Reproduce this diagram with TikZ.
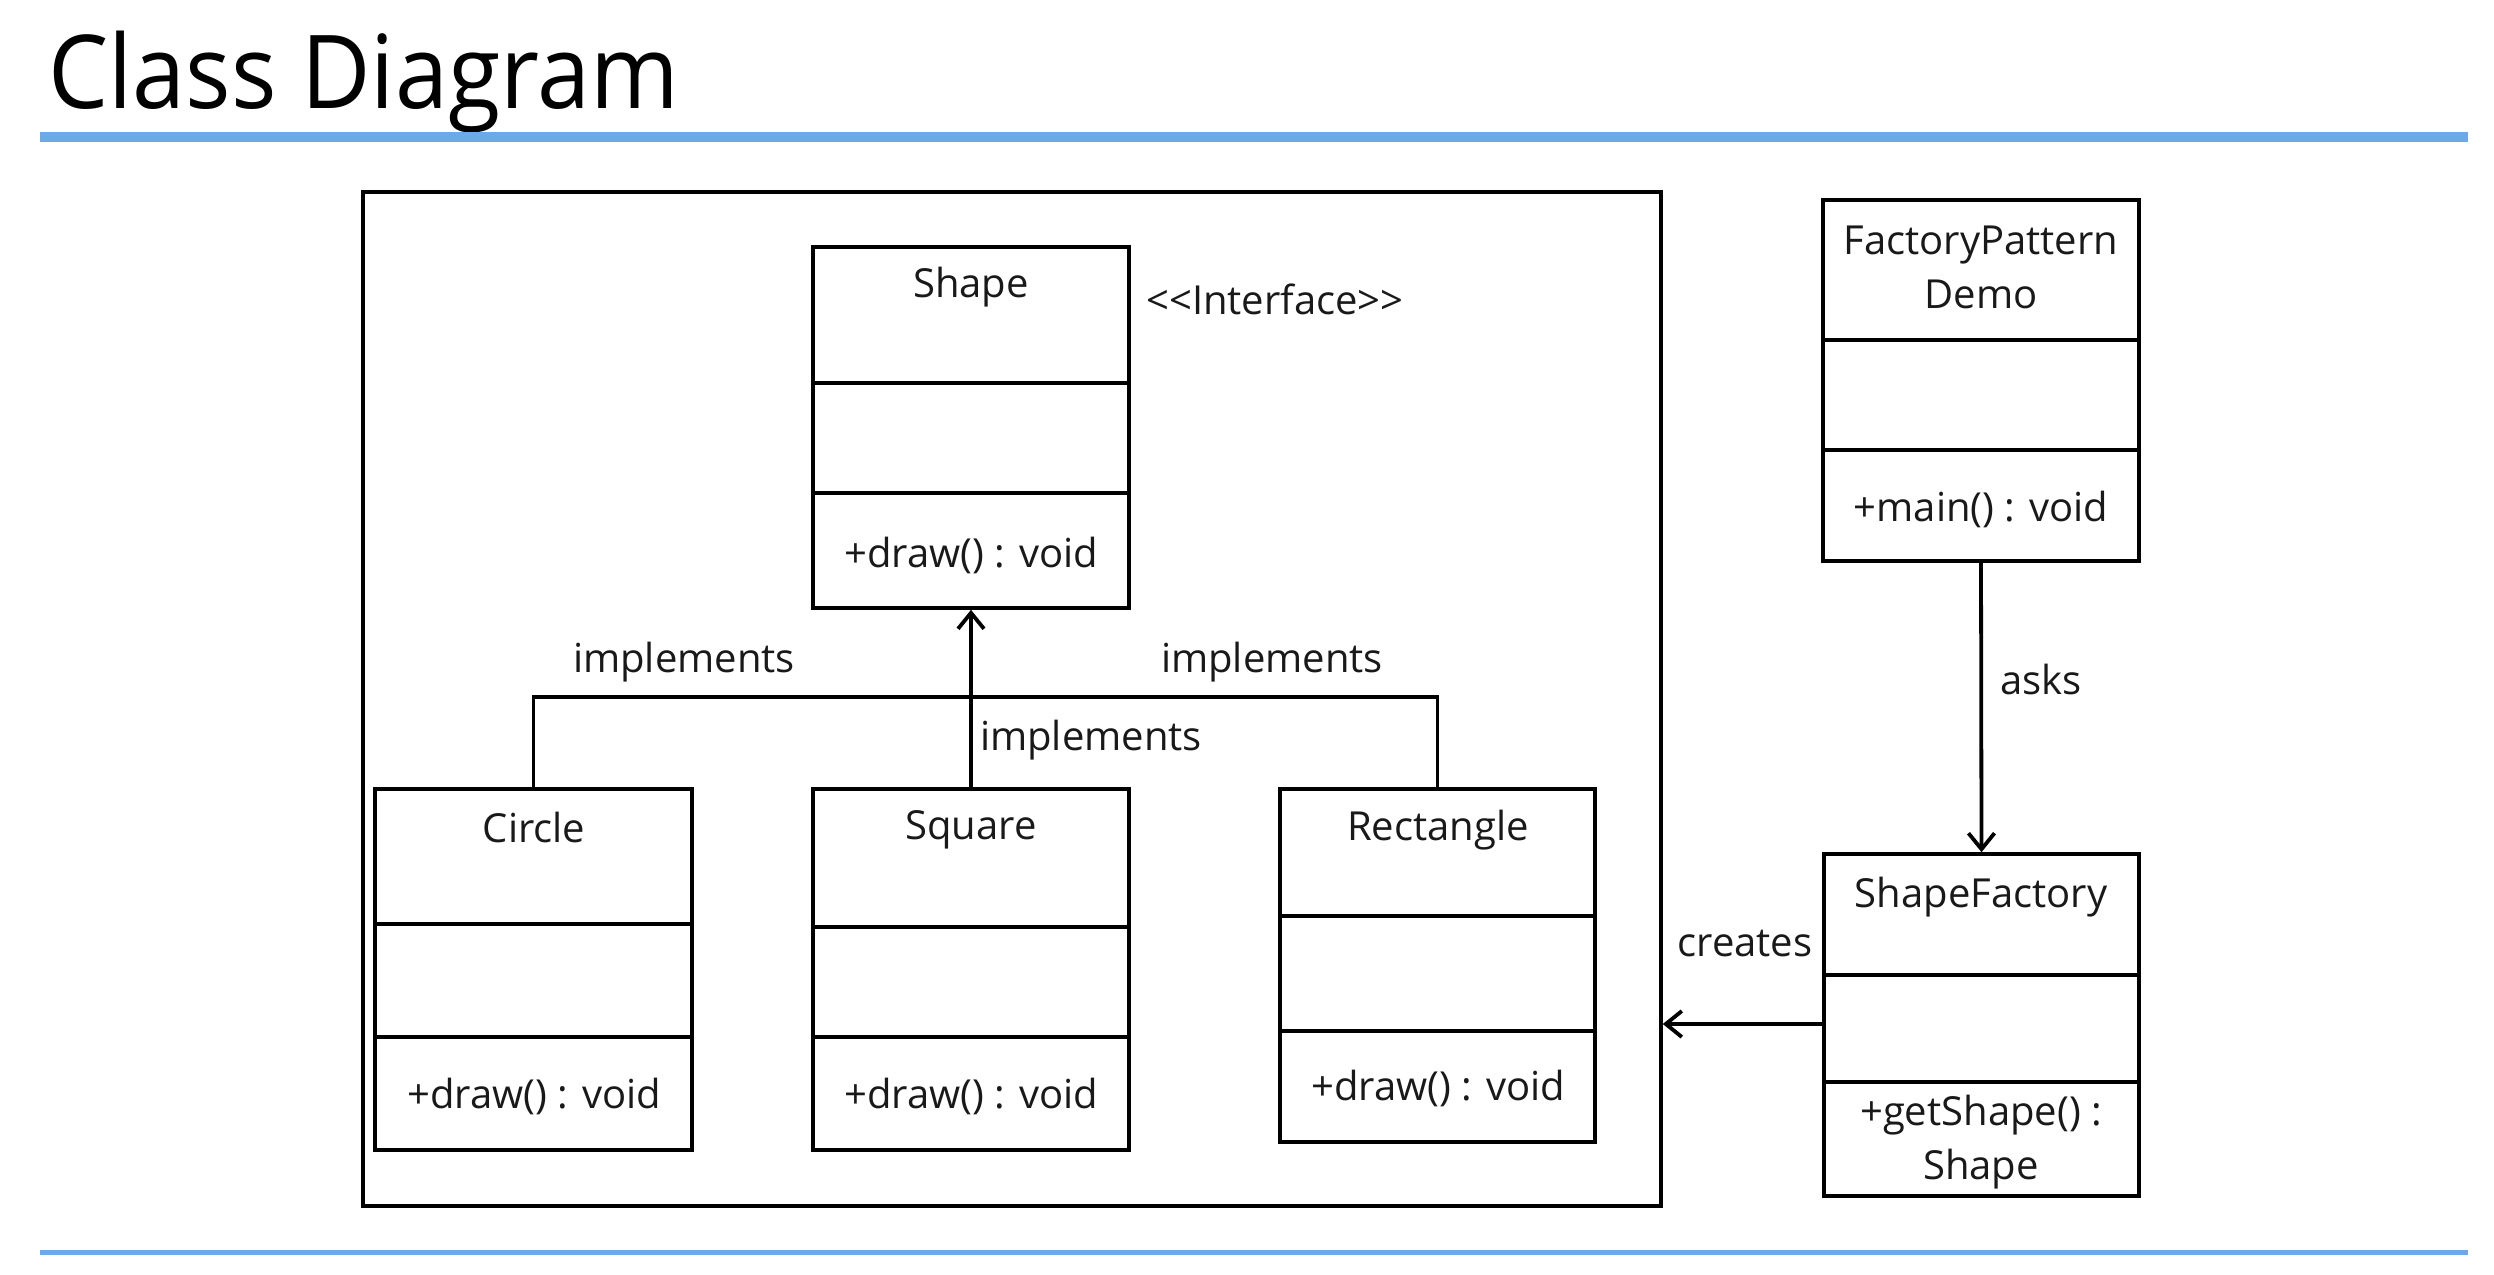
\documentclass[tikz,border=0pt]{standalone}
\usepackage{fontspec}
\setmainfont{Open Sans}
\usetikzlibrary{arrows.meta,fit}
\definecolor{rulecol}{HTML}{6FA8E8}
\begin{document}
\begin{tikzpicture}[x=0.5pt,y=-0.5pt,
  box/.style={draw, line width=1.8pt, inner sep=0pt},
  sepline/.style={line width=1.8pt},
  lbl/.style={font=\fontsize{20}{27}\selectfont, text=black!90, inner sep=0pt, align=center},
  conn/.style={line width=1.9pt},
  arr/.style={conn, -{Straight Barb[length=8pt,width=13pt,line width=1.9pt]}}]
\useasboundingbox (0,0) rectangle (2494,1274);
% title and rules
\node[anchor=base west, font=\fontsize{51}{60}\selectfont, xscale=0.935, inner sep=0pt] (title) at (48,108) {Class Diagram};
\draw[rulecol, line width=5pt] (40,137) -- (2468,137);
\draw[rulecol, line width=2.5pt] (40,1252) -- (2468,1252);
% frame
\node[box, fit={(363,192) (1661,1206)}] (frame) {};
% Shape
\node[box, fit={(813,247) (1129,608)}] (shape) {};
\draw[sepline] (shape.west |- 0,383) -- (shape.east |- 0,383);
\draw[sepline] (shape.west |- 0,493) -- (shape.east |- 0,493);
\node[lbl] (shapename) at (971,287) {Shape};
\node[lbl] (shapemeth) at (971,555) {+draw() : void};
\node[lbl] (iface) at (1275,299) {<{}<Interface>{}>};
% Circle
\node[box, fit={(375,789) (692,1150)}] (circle) {};
\draw[sepline] (circle.west |- 0,924) -- (circle.east |- 0,924);
\draw[sepline] (circle.west |- 0,1037) -- (circle.east |- 0,1037);
\node[lbl] (circlename) at (534,827) {Circle};
\node[lbl] (circlemeth) at (534,1096) {+draw() : void};
% Square
\node[box, fit={(813,789) (1129,1150)}] (square) {};
\draw[sepline] (square.west |- 0,927) -- (square.east |- 0,927);
\draw[sepline] (square.west |- 0,1037) -- (square.east |- 0,1037);
\node[lbl] (squarename) at (971,830) {Square};
\node[lbl] (squaremeth) at (971,1096) {+draw() : void};
% Rectangle
\node[box, fit={(1280,789) (1595,1142)}] (rect) {};
\draw[sepline] (rect.west |- 0,916) -- (rect.east |- 0,916);
\draw[sepline] (rect.west |- 0,1031) -- (rect.east |- 0,1031);
\node[lbl] (rectname) at (1438,830) {Rectangle};
\node[lbl] (rectmeth) at (1438,1088) {+draw() : void};
% implements connectors
\coordinate (bar) at (971,697);
\draw[conn] (circle.north) |- (bar) -| (rect.north);
\draw[arr] (square.north) -- (shape.south);
\node[lbl] (impl1) at (684,662) {implements};
\node[lbl] (impl2) at (1272,662) {implements};
\node[lbl] (impl3) at (1091,740) {implements};
% FactoryPatternDemo
\node[box, fit={(1823,200) (2139,561)}] (fpd) {};
\draw[sepline] (fpd.west |- 0,340) -- (fpd.east |- 0,340);
\draw[sepline] (fpd.west |- 0,450) -- (fpd.east |- 0,450);
\node[lbl] (fpdname) at (1981,267) {FactoryPattern\\Demo};
\node[lbl] (fpdmeth) at (1981,509) {+main() : void};
% ShapeFactory
\node[box, fit={(1824,854) (2139,1196)}] (sf) {};
\draw[sepline] (sf.west |- 0,975) -- (sf.east |- 0,975);
\draw[sepline] (sf.west |- 0,1082) -- (sf.east |- 0,1082);
\node[lbl] (sfname) at (1981,897) {ShapeFactory};
\node[lbl] (sfmeth) at (1981,1142) {+getShape() :\\Shape};
% asks / creates
\draw[arr] (fpd.south) -- (sf.north);
\node[lbl] (asks) at (2041,679) {asks};
\draw[arr] (sf.west |- 0,1024) -- (frame.east |- 0,1024);
\node[lbl] (creates) at (1745,943) {creates};
\end{tikzpicture}
\end{document}
